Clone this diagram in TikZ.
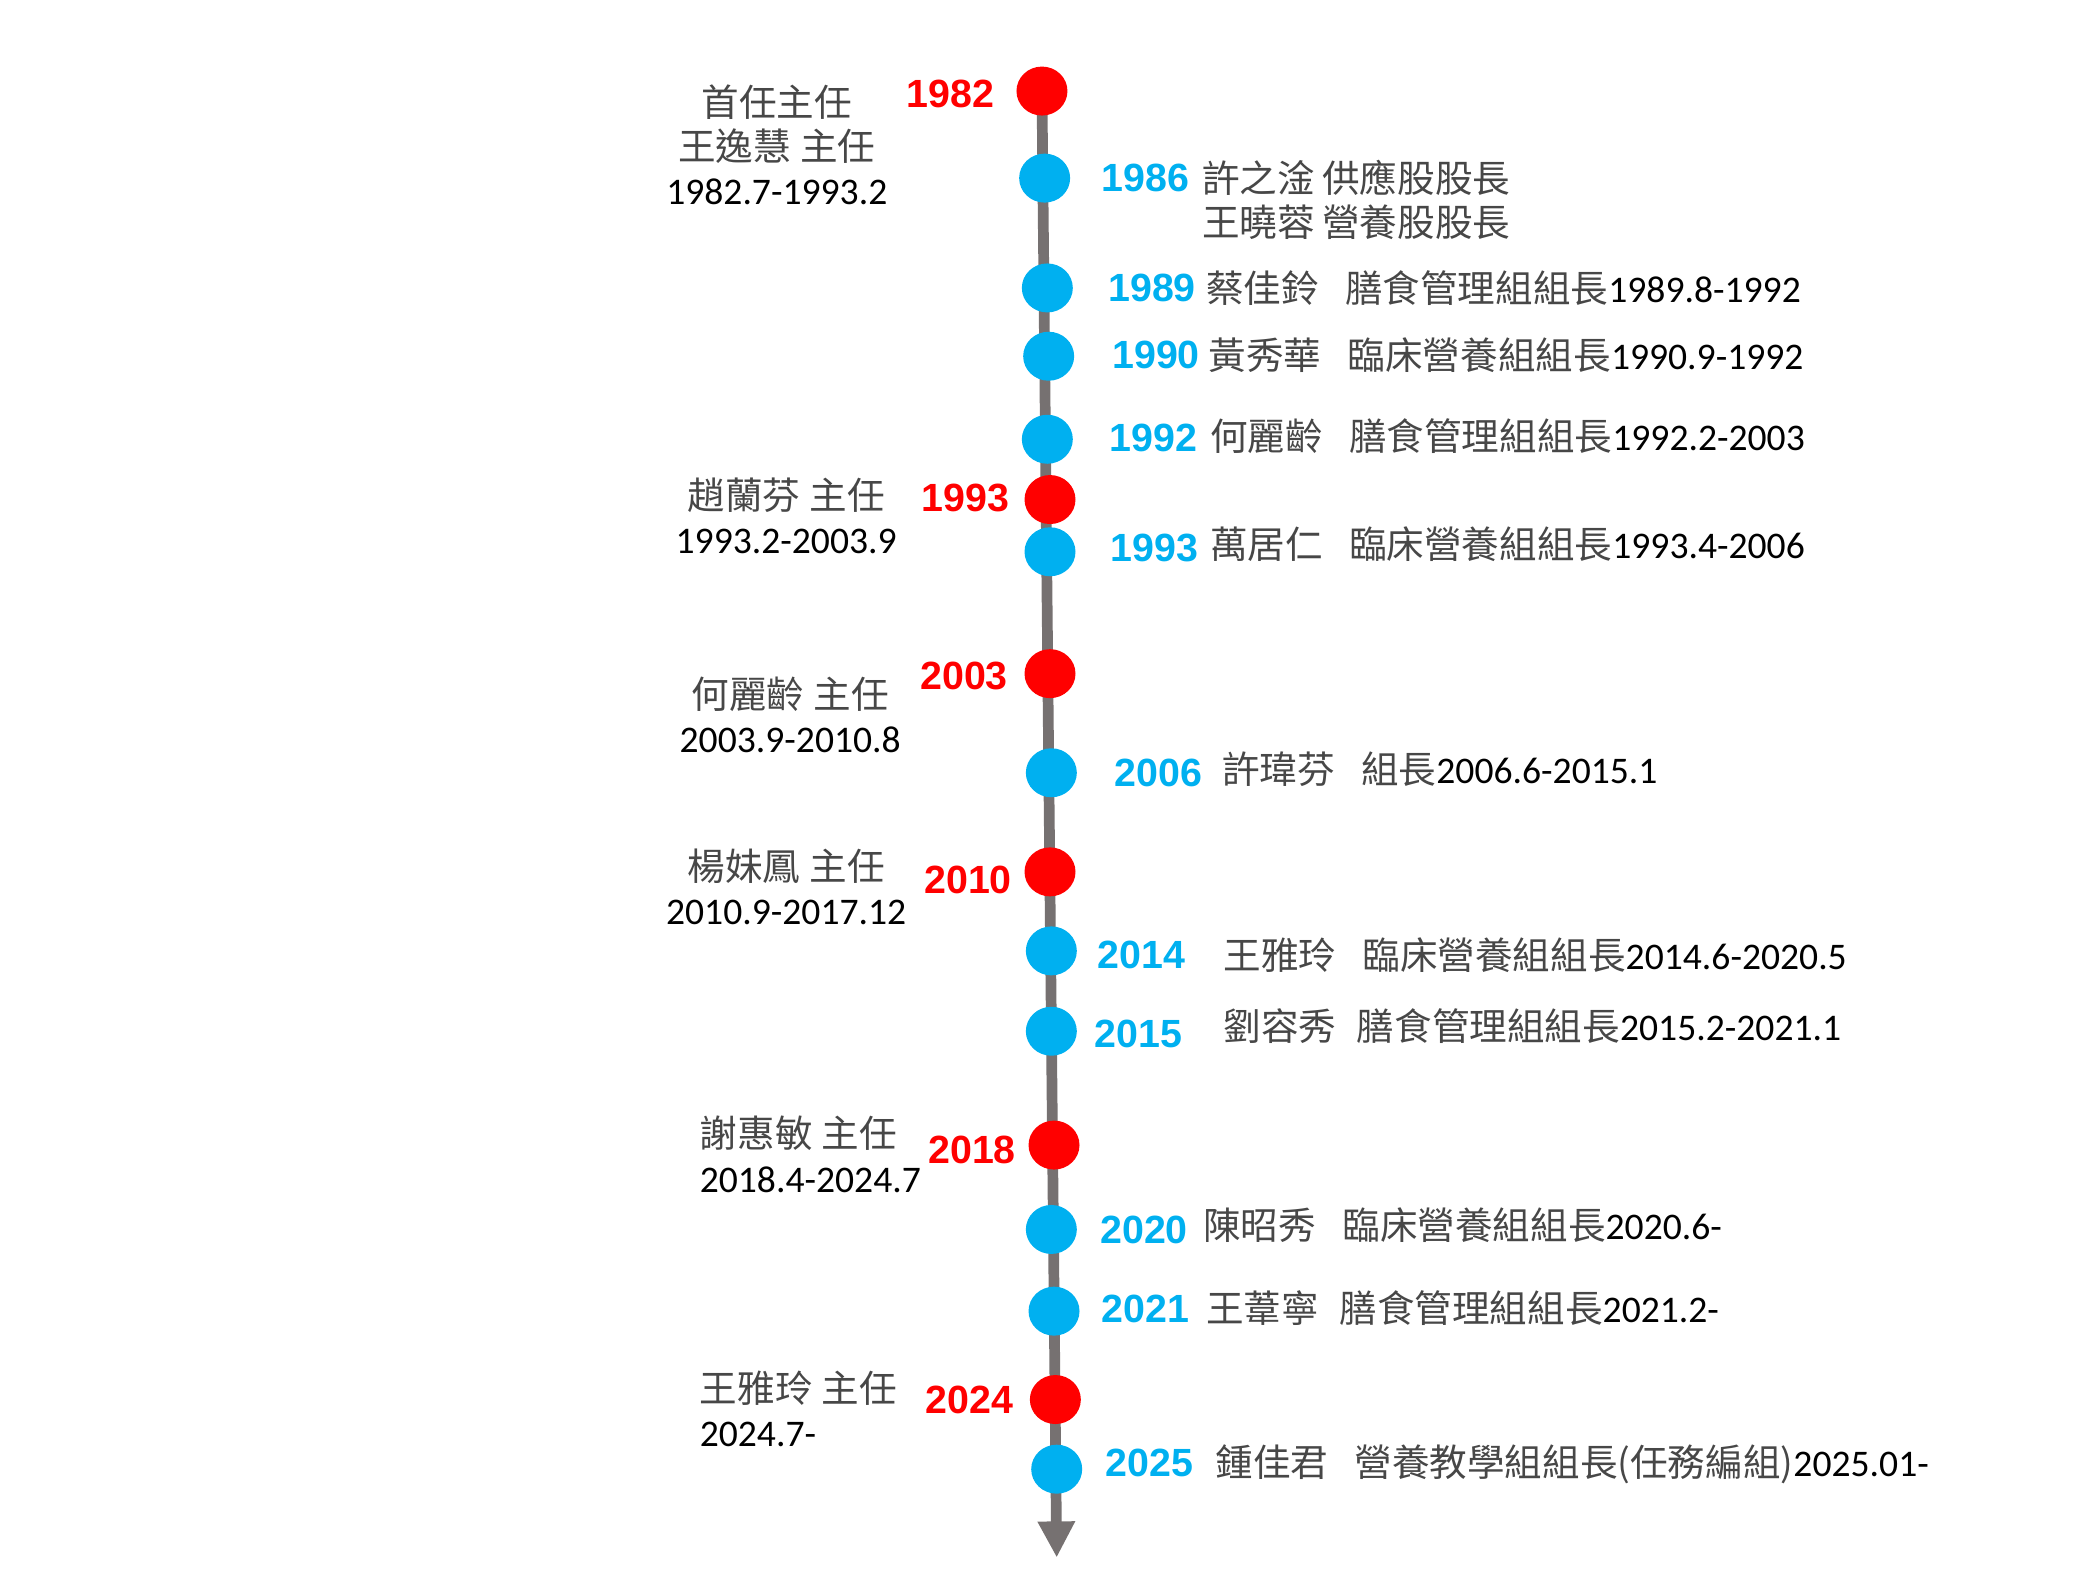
\documentclass[tikz,border=0pt]{standalone}
\usepackage{fontspec}
\setmainfont{Carlito}
\newfontfamily\cjkfont{Noto Sans CJK TC}
\newfontfamily\arlfont{Liberation Sans}
\usetikzlibrary{arrows.meta,shapes.geometric,backgrounds}
\definecolor{axisgray}{HTML}{767171}
\definecolor{evblue}{HTML}{00B0F0}
\definecolor{evred}{HTML}{FF0000}
\newcommand\zh[1]{{\cjkfont\color{black!72}#1}}
\tikzset{
  dotbase/.style={ellipse, minimum width=0.51cm, minimum height=0.49cm, inner sep=0pt, draw=none},
  dotred/.style={dotbase, fill=evred},
  dotblue/.style={dotbase, fill=evblue},
  yrbase/.style={inner sep=0pt, font=\arlfont\bfseries\fontsize{11.2}{13}\selectfont},
  yrred/.style={yrbase, anchor=east, text=evred},
  yrblue/.style={yrbase, anchor=west, text=evblue},
  desc/.style={anchor=west, inner sep=0pt, font=\fontsize{10.7}{12.6}\selectfont},
  head/.style={align=center, inner sep=0pt, font=\fontsize{10.7}{12.6}\selectfont},
  headl/.style={align=left, anchor=west, inner sep=0pt, font=\fontsize{10.7}{12.6}\selectfont},
  axisline/.style={draw=axisgray, line width=3.05pt, -{Triangle[width=10pt,length=10.3pt]}}
}
\begin{document}
\begin{tikzpicture}[x=0.013393cm, y=-0.013393cm]
\useasboundingbox (0,0) rectangle (1568,1176);

% dots
\node[dotred]  (r1982) at (778,68) {};
\node[dotblue] (b1986) at (780,133) {};
\node[dotblue] (b1989) at (782,215) {};
\node[dotblue] (b1990) at (783,266) {};
\node[dotblue] (b1992) at (782,328) {};
\node[dotred]  (r1993) at (784,373) {};
\node[dotblue] (b1993) at (784,412) {};
\node[dotred]  (r2003) at (784,503) {};
\node[dotblue] (b2006) at (785,577) {};
\node[dotred]  (r2010) at (784,651) {};
\node[dotblue] (b2014) at (785,710) {};
\node[dotblue] (b2015) at (785,770) {};
\node[dotred]  (r2018) at (787,855) {};
\node[dotblue] (b2020) at (785,918) {};
\node[dotblue] (b2021) at (787,979) {};
\node[dotred]  (r2024) at (788,1045) {};
\node[dotblue] (b2025) at (789,1097) {};
\coordinate (tip) at (789,1163);

\begin{scope}[on background layer]
\draw[axisline] (r1982.center) -- (tip);
\end{scope}

% red years
\node[yrred] (yr1982) at (743,70) {1982};
\node[yrred] (yr1993) at (754,372) {1993};
\node[yrred] (yr2003) at (753,505) {2003};
\node[yrred] (yr2010) at (756,657) {2010};
\node[yrred] (yr2018) at (759,859) {2018};
\node[yrred] (yr2024) at (757,1045) {2024};

% blue years
\node[yrblue] (yb1986) at (822,133) {1986};
\node[yrblue] (yb1989) at (827,215) {1989};
\node[yrblue] (yb1990) at (830,265) {1990};
\node[yrblue] (yb1992) at (828,327) {1992};
\node[yrblue] (yb1993) at (829,409) {1993};
\node[yrblue] (yb2006) at (832,577) {2006};
\node[yrblue] (yb2014) at (819,713) {2014};
\node[yrblue] (yb2015) at (817,772) {2015};
\node[yrblue] (yb2020) at (821,918) {2020};
\node[yrblue] (yb2021) at (822,977) {2021};
\node[yrblue] (yb2025) at (825,1092) {2025};

% right descriptions
\node[desc] (t1986a) at (897,133) {\zh{許之淦\hspace{0.2em}供應股股長}};
\node[desc] (t1986b) at (897,166) {\zh{王曉蓉\hspace{0.2em}營養股股長}};
\node[desc] (t1989) at (900,215) {\zh{蔡佳鈴\hspace{0.7em}膳食管理組組長}1989.8-1992};
\node[desc] (t1990) at (902,265) {\zh{黃秀華\hspace{0.7em}臨床營養組組長}1990.9-1992};
\node[desc] (t1992) at (903,326) {\zh{何麗齡\hspace{0.7em}膳食管理組組長}1992.2-2003};
\node[desc] (t1993) at (903,406) {\zh{萬居仁\hspace{0.7em}臨床營養組組長}1993.4-2006};
\node[desc] (t2006) at (912,574) {\zh{許瑋芬\hspace{0.7em}組長}2006.6-2015.1};
\node[desc] (t2014) at (913,713) {\zh{王雅玲\hspace{0.7em}臨床營養組組長}2014.6-2020.5};
\node[desc] (t2015) at (913,766) {\zh{劉容秀\hspace{0.55em}膳食管理組組長}2015.2-2021.1};
\node[desc] (t2020) at (898,915) {\zh{陳昭秀\hspace{0.7em}臨床營養組組長}2020.6-};
\node[desc] (t2021) at (900,977) {\zh{王葦寧\hspace{0.55em}膳食管理組組長}2021.2-};
\node[desc] (t2025) at (907,1093) {\zh{鍾佳君\hspace{0.7em}營養教學組組長(任務編組)}2025.01-};

% left heads
\node[head] (h1982) at (580,108) {\zh{首任主任}\\\zh{王逸慧\hspace{0.25em}主任}\\1982.7-1993.2};
\node[head] (h1993) at (587,385) {\zh{趙蘭芬\hspace{0.25em}主任}\\1993.2-2003.9};
\node[head] (h2003) at (590,534) {\zh{何麗齡\hspace{0.25em}主任}\\2003.9-2010.8};
\node[head] (h2010) at (587,662) {\zh{楊妹鳳\hspace{0.25em}主任}\\2010.9-2017.12};
\node[headl] (h2018) at (522,862) {\zh{謝惠敏\hspace{0.25em}主任}\\2018.4-2024.7};
\node[headl] (h2024) at (522,1052) {\zh{王雅玲\hspace{0.25em}主任}\\2024.7-};
\end{tikzpicture}
\end{document}
